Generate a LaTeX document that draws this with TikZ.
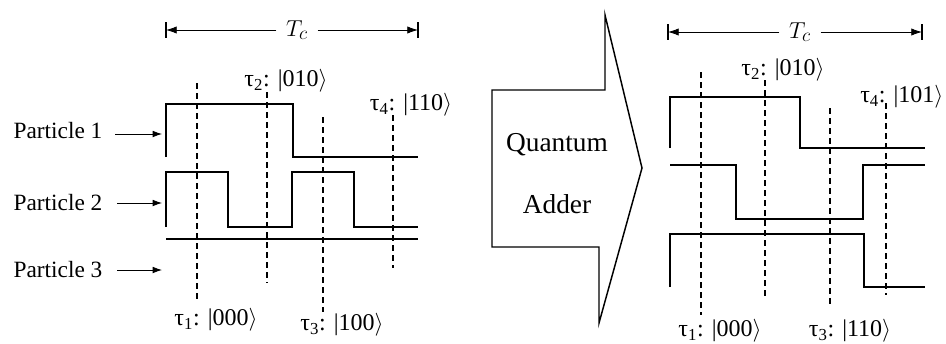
\documentclass[tikz,border=0pt]{standalone}
\usepackage{fontspec}
\setmainfont{Liberation Serif}
\usetikzlibrary{arrows.meta}
\begin{document}
\begin{tikzpicture}[x=0.75pt,y=-0.75pt,
 sig/.style={line width=1.5pt},
 tau/.style={line width=0.9pt, dash pattern=on 4.5pt off 3pt},
 lbl/.style={font=\fontsize{17.5}{19}\selectfont, inner sep=0pt},
 tlbl/.style={font=\fontsize{18}{20}\selectfont, inner sep=0pt},
 big/.style={font=\fontsize{20.5}{22}\selectfont, inner sep=0pt},
 tclbl/.style={font=\fontsize{19}{21}\selectfont, inner xsep=7pt, inner ysep=0pt},
 ptr/.style={-{Latex[length=7pt,width=5pt]}, line width=0.6pt},
 dimarrow/.style={-{Latex[length=8pt,width=5.5pt]}, line width=0.6pt},
 endbar/.style={line width=1.2pt},
 adder/.style={line width=1.1pt}]
\useasboundingbox (0,0) rectangle (946,343);
% ---------- left panel ----------
\node[tclbl] (tcL) at (297,30) {$T_c$};
\coordinate (tcLa) at (166,30);
\coordinate (tcLb) at (418,30);
\draw[dimarrow] (tcL) -- (tcLa);
\draw[dimarrow] (tcL) -- (tcLb);
\draw[endbar] (166,22) -- (166,38);
\draw[endbar] (418,22) -- (418,38);

\draw[sig] (166,157) -- (166,104) -- (293,104) -- (293,157) -- (418,157);
\draw[sig] (166,227) -- (166,172) -- (228,172) -- (228,227) -- (292,227) -- (292,172) -- (354,172) -- (354,227) -- (418,227);
\draw[sig] (166,239) -- (418,239);

\draw[tau] (197,83) -- (197,302);
\draw[tau] (267,92) -- (267,283);
\draw[tau] (323,117) -- (323,312);
\draw[tau] (393,115) -- (393,268);

\node[tlbl] (t1L) at (216,320) {τ\textsubscript{1}: |000$\rangle$};
\node[tlbl] (t2L) at (286,81) {τ\textsubscript{2}: |010$\rangle$};
\node[tlbl] (t3L) at (342,325) {τ\textsubscript{3}: |100$\rangle$};
\node[tlbl] (t4L) at (411,105) {τ\textsubscript{4}: |110$\rangle$};

\node[lbl] (p1) at (58,131) {Particle 1};
\node[lbl] (p2) at (58,203) {Particle 2};
\node[lbl] (p3) at (58,270) {Particle 3};
\coordinate (p1a) at (115,134); \coordinate (p1b) at (162,134);
\coordinate (p2a) at (117,203); \coordinate (p2b) at (162,203);
\coordinate (p3a) at (117,270); \coordinate (p3b) at (162,270);
\draw[ptr] (p1a) -- (p1b);
\draw[ptr] (p2a) -- (p2b);
\draw[ptr] (p3a) -- (p3b);

% ---------- quantum adder arrow ----------
\draw[adder] (492,90) -- (605,90) -- (605,15) -- (642,168) -- (599,323) -- (599,247) -- (492,247) -- cycle;
\node[big] (qa1) at (557,145) {Quantum};
\node[big] (qa2) at (557,204) {Adder};

% ---------- right panel ----------
\node[tclbl] (tcR) at (800,32) {$T_c$};
\coordinate (tcRa) at (668,32);
\coordinate (tcRb) at (922,32);
\draw[dimarrow] (tcR) -- (tcRa);
\draw[dimarrow] (tcR) -- (tcRb);
\draw[endbar] (668,24) -- (668,40);
\draw[endbar] (922,24) -- (922,40);

\draw[sig] (670,148) -- (670,97) -- (800,97) -- (800,148) -- (925,148);
\draw[sig] (670,165) -- (736,165) -- (736,219) -- (863,219) -- (863,165) -- (925,165);
\draw[sig] (670,287) -- (670,234) -- (864,234) -- (864,287) -- (925,287);

\draw[tau] (701,72) -- (701,315);
\draw[tau] (765,80) -- (765,297);
\draw[tau] (830,108) -- (830,308);
\draw[tau] (886,103) -- (886,295);

\node[tlbl] (t1R) at (720,331) {τ\textsubscript{1}: |000$\rangle$};
\node[tlbl] (t2R) at (783,70) {τ\textsubscript{2}: |010$\rangle$};
\node[tlbl] (t3R) at (850,331) {τ\textsubscript{3}: |110$\rangle$};
\node[tlbl, anchor=west] (t4R) at (860,97) {τ\textsubscript{4}: |101$\rangle$};
\end{tikzpicture}
\end{document}
